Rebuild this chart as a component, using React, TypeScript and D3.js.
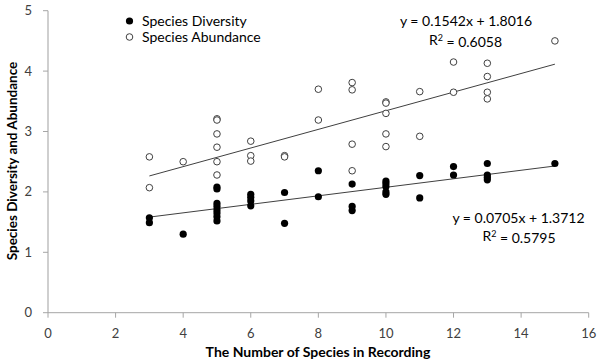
import React from "react";
import * as d3 from "d3";

// Species diversity per recording (filled markers)
const diversityX = [3, 3, 4, 5, 5, 5, 5, 5, 5, 5, 5, 6, 6, 6, 6, 7, 7, 8, 8, 9, 9, 9, 10, 10, 10, 10, 10, 11, 11, 12, 12, 13, 13, 13, 13, 15];
const diversityY = [1.57, 1.49, 1.30, 2.08, 2.05, 1.81, 1.76, 1.70, 1.65, 1.59, 1.52, 1.96, 1.91, 1.85, 1.77, 1.99, 1.48, 2.35, 1.92, 2.13, 1.76, 1.69, 2.18, 2.14, 2.09, 2.00, 1.96, 2.27, 1.90, 2.42, 2.28, 2.47, 2.28, 2.24, 2.20, 2.47];

// Species abundance per recording (open markers)
const abundanceX = [3, 3, 4, 5, 5, 5, 5, 5, 5, 6, 6, 6, 7, 7, 8, 8, 9, 9, 9, 9, 10, 10, 10, 10, 10, 11, 11, 12, 12, 13, 13, 13, 13, 15];
const abundanceY = [2.58, 2.07, 2.50, 3.21, 3.19, 2.96, 2.74, 2.50, 2.28, 2.84, 2.60, 2.51, 2.60, 2.58, 3.70, 3.19, 3.81, 3.69, 2.79, 2.35, 3.49, 3.47, 3.30, 2.96, 2.75, 3.66, 2.92, 4.15, 3.65, 4.13, 3.91, 3.65, 3.54, 4.50];

// Linear trend lines: [slope, intercept, R²]
const diversityFit = [0.0705, 1.3712, 0.5795];
const abundanceFit = [0.1542, 1.8016, 0.6058];
const fitRange = [3, 15];

const xTicks = [0, 2, 4, 6, 8, 10, 12, 14, 16];
const yTicks = [0, 1, 2, 3, 4, 5];
const legendLabels = ["Species Diversity", "Species Abundance"];

const W = 597;
const H = 364;
const FONT = "Lato, 'Open Sans', sans-serif";

export default function App() {
  const x = d3.scaleLinear().domain([0, 16]).range([48, 588.7]);
  const y = d3.scaleLinear().domain([0, 5]).range([312.7, 10.7]);

  const line = d3
    .line<number>()
    .x((v) => x(v[0]))
    .y((v) => y(v[1]));

  const fitPoints = (fit: number[]) =>
    fitRange.map((v) => [v, fit[0] * v + fit[1]]);

  const textColor = "#404040";

  return (
    <svg
      width={W}
      height={H}
      style={{ position: "absolute", left: 0, top: 0, background: "#fff" }}
      fontFamily={FONT}
    >
      {/* axes */}
      <line x1={x(0)} x2={x(0)} y1={y(5)} y2={y(0)} stroke="#bfbfbf" strokeWidth={1.5} />
      <line x1={x(0)} x2={x(16)} y1={y(0)} y2={y(0)} stroke="#a6a6a6" strokeWidth={1} />
      {yTicks.map((t) => (
        <g key={"y" + t}>
          <line x1={x(0) - 5} x2={x(0)} y1={y(t)} y2={y(t)} stroke="#a6a6a6" />
          <text x={32} y={y(t)} dy="0.35em" textAnchor="end" fontSize={13} fill={textColor}>
            {t}
          </text>
        </g>
      ))}
      {xTicks.map((t) => (
        <g key={"x" + t}>
          <line x1={x(t)} x2={x(t)} y1={y(0)} y2={y(0) + 5} stroke="#a6a6a6" />
          <text x={x(t)} y={333} dy="0.35em" textAnchor="middle" fontSize={13} fill={textColor}>
            {t}
          </text>
        </g>
      ))}

      {/* axis titles */}
      <text x={318} y={352} dy="0.35em" textAnchor="middle" fontSize={14} fontWeight="bold" fill="#000">
        The Number of Species in Recording
      </text>
      <text
        transform={`translate(12.5,161) rotate(-90)`}
        dy="0.35em"
        textAnchor="middle"
        fontSize={13.5}
        fontWeight="bold"
        fill="#000"
      >
        Species Diversity and Abundance
      </text>

      {/* trend lines */}
      <path d={line(fitPoints(abundanceFit) as any) || ""} stroke="#404040" strokeWidth={1} fill="none" />
      <path d={line(fitPoints(diversityFit) as any) || ""} stroke="#404040" strokeWidth={1} fill="none" />

      {/* data points */}
      {abundanceX.map((v, i) => (
        <circle key={"a" + i} cx={x(v)} cy={y(abundanceY[i])} r={3.3} fill="#fff" stroke="#404040" strokeWidth={1} />
      ))}
      {diversityX.map((v, i) => (
        <circle key={"d" + i} cx={x(v)} cy={y(diversityY[i])} r={3.6} fill="#000" />
      ))}

      {/* equations */}
      <text x={466} y={21} dy="0.35em" textAnchor="middle" fontSize={14} fill="#000">
        {`y = ${abundanceFit[0]}x + ${abundanceFit[1]}`}
      </text>
      <text x={465.5} y={40} dy="0.35em" textAnchor="middle" fontSize={14} fill="#000">
        R<tspan fontSize={9} dy="-0.45em">2</tspan>
        <tspan dy="0.45em">{` = ${abundanceFit[2]}`}</tspan>
      </text>
      <text x={518.5} y={218} dy="0.35em" textAnchor="middle" fontSize={14} fill="#000">
        {`y = ${diversityFit[0]}x + ${diversityFit[1]}`}
      </text>
      <text x={519} y={236} dy="0.35em" textAnchor="middle" fontSize={14} fill="#000">
        R<tspan fontSize={9} dy="-0.45em">2</tspan>
        <tspan dy="0.45em">{` = ${diversityFit[2]}`}</tspan>
      </text>

      {/* legend */}
      <circle cx={129.5} cy={21} r={3.6} fill="#000" />
      <text x={142} y={21} dy="0.35em" fontSize={14} fill="#000">
        {legendLabels[0]}
      </text>
      <circle cx={129.5} cy={37} r={3.3} fill="#fff" stroke="#404040" />
      <text x={142} y={37} dy="0.35em" fontSize={14} fill="#000">
        {legendLabels[1]}
      </text>
    </svg>
  );
}
